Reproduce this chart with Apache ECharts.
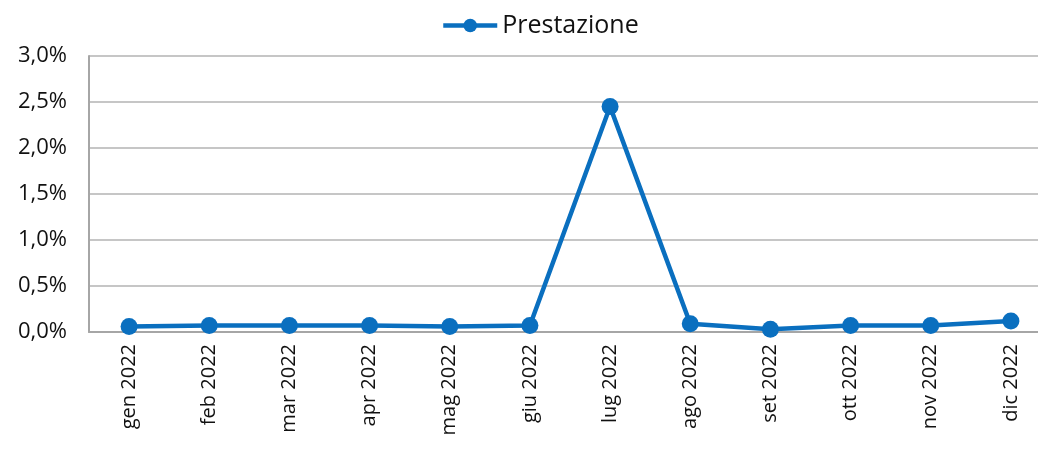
<!DOCTYPE html>
<html>
<head>
<meta charset="utf-8">
<script src="https://cdn.jsdelivr.net/npm/echarts@6/dist/echarts.min.js"></script>
<style>
  html, body { margin: 0; padding: 0; background: #fff; }
  #chart { width: 1038px; height: 450px; }
</style>
</head>
<body>
<div id="chart"></div>
<script>
// categorie (mesi)
const months = ['gen 2022', 'feb 2022', 'mar 2022', 'apr 2022', 'mag 2022', 'giu 2022',
  'lug 2022', 'ago 2022', 'set 2022', 'ott 2022', 'nov 2022', 'dic 2022'];
// prestazione mensile in %
const prestazione = [0.06, 0.07, 0.07, 0.07, 0.06, 0.07, 2.45, 0.09, 0.03, 0.07, 0.07, 0.12];

const chart = echarts.init(document.getElementById('chart'));
const blue = '#0a6fbf';
const font = '"Open Sans", "Noto Sans", sans-serif';

chart.setOption({
  animation: false,
  textStyle: { fontFamily: font },
  legend: {
    top: 8,
    left: 436,
    itemWidth: 54,
    itemHeight: 17,
    itemGap: 4,
    lineStyle: { width: 4.5 },
    textStyle: { fontSize: 25, color: '#111', fontFamily: font },
    data: ['Prestazione']
  },
  grid: { left: 89, top: 56, width: 962, height: 276, outerBoundsMode: 'none' },
  xAxis: {
    type: 'category',
    data: months,
    boundaryGap: true,
    axisLine: { lineStyle: { color: '#a6a6a6', width: 2 } },
    axisTick: { show: false },
    axisLabel: { rotate: 90, fontSize: 20, color: '#111', margin: 12, interval: 0 }
  },
  yAxis: {
    type: 'value',
    min: 0,
    max: 3,
    interval: 0.5,
    axisLine: { show: true, lineStyle: { color: '#a6a6a6', width: 2 } },
    axisTick: { show: false },
    splitLine: { lineStyle: { color: '#b3b3b3', width: 1.5 } },
    axisLabel: {
      fontSize: 22,
      color: '#111',
      margin: 22,
      formatter: v => v.toFixed(1).replace('.', ',') + '%'
    }
  },
  series: [{
    name: 'Prestazione',
    type: 'line',
    data: prestazione,
    symbol: 'circle',
    symbolSize: 17,
    lineStyle: { color: blue, width: 4.5 },
    itemStyle: { color: blue }
  }]
});
</script>
</body>
</html>
